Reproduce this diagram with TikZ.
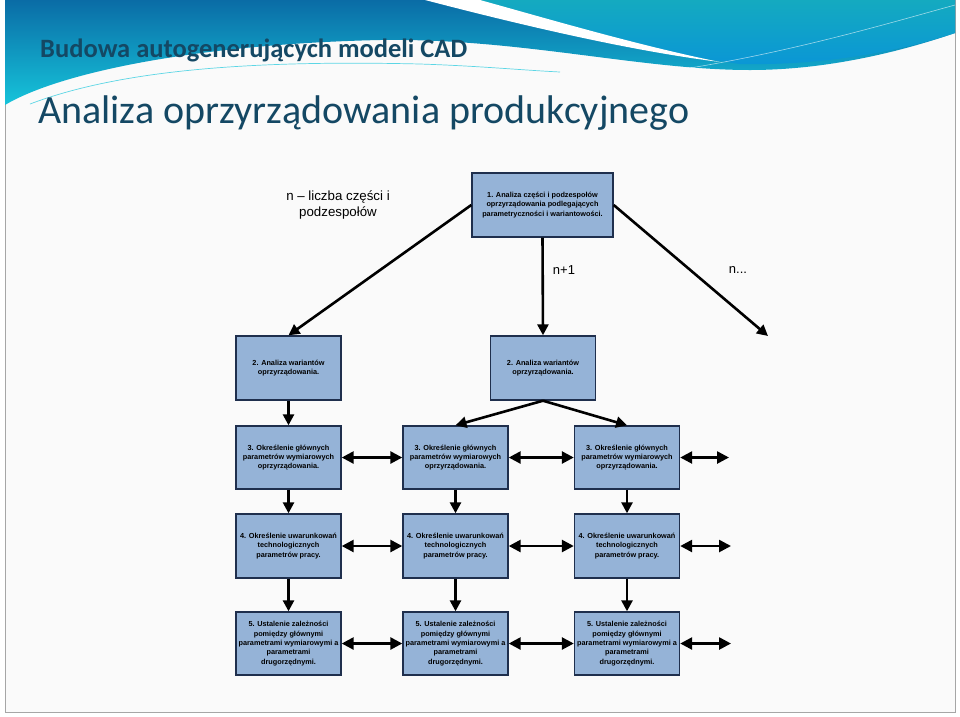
\documentclass[tikz,border=0pt]{standalone}
\usepackage{fontspec}
\setmainfont{Liberation Sans}
\newfontfamily\calibri{Carlito}
\usetikzlibrary{arrows.meta}

\definecolor{boxblue}{RGB}{149,179,215}
\definecolor{boxline}{RGB}{31,47,77}
\definecolor{titleblue}{RGB}{20,72,100}
\definecolor{waveblue}{RGB}{10,108,166}
\definecolor{wavecyan}{RGB}{22,196,218}
\definecolor{waveteal}{RGB}{20,170,192}
\definecolor{wavemid}{RGB}{10,150,214}

\begin{document}
\begin{tikzpicture}[
    x=1pt, y=-1pt,
    block/.style={
        draw=boxline,
        line width=1.4pt,
        fill=boxblue,
        minimum width=105pt,
        minimum height=64pt,
        inner sep=1pt,
        align=center,
        font=\fontsize{7.3}{9.4}\selectfont\bfseries
    },
    arr/.style={line width=2.6pt, -{Triangle[length=11pt,width=11pt]}},
    dbl/.style={line width=2.6pt, {Triangle[length=12pt,width=12pt]}-{Triangle[length=12pt,width=12pt]}}
]
\useasboundingbox (0,0) rectangle (960,716);

% slide background and wave
\fill[white] (0,0) rectangle (960,716);
\fill[gray!4] (5,0) rectangle (955,712);
\draw[gray!70, line width=1pt] (5,0) -- (5,712) -- (955,712) -- (955,0);
\shade[top color=waveblue, bottom color=wavecyan]
    (5,0) -- (955,0) -- (955,33)
    .. controls (920,45) and (840,70) .. (750,70)
    .. controls (640,70) and (520,38) .. (380,40)
    .. controls (200,44) and (60,72) .. (5,105) -- cycle;
\shade[top color=waveteal, bottom color=wavemid]
    (470,0) -- (955,0) -- (955,33)
    .. controls (920,45) and (840,66) .. (740,64)
    .. controls (640,50) and (540,20) .. (470,0) -- cycle;
\fill[white]
    (425,0) .. controls (540,30) and (640,52) .. (720,62)
    .. controls (640,46) and (545,18) .. (480,0) -- cycle;
\draw[wavecyan!70, line width=.7pt]
    (30,104) .. controls (120,70) and (250,60) .. (420,64)
    .. controls (480,66) and (520,70) .. (560,72);
\draw[white, opacity=.6, line width=.6pt]
    (690,68) .. controls (800,50) and (900,20) .. (955,5);

% titles
\node[font=\calibri\bfseries\fontsize{26.5}{32}\selectfont, text=titleblue, anchor=base west, inner sep=0pt] (sub) at (40,57) {Budowa autogenerujących modeli CAD};
\node[font=\calibri\fontsize{40}{48}\selectfont, text=titleblue, anchor=base west, inner sep=0pt] (title) at (38,123) {Analiza oprzyrządowania produkcyjnego};

% labels
\node[font=\fontsize{13.3}{16}\selectfont, align=center] (opis) at (338,205) {n – liczba części i\\podzespołów};
\node[font=\fontsize{13}{16}\selectfont] (nplus) at (564,270) {n+1};
\node[font=\fontsize{13}{16}\selectfont] (ndots) at (738,270) {n...};

% blocks
\node[block, minimum width=141pt] (analiza) at (542.5,205) {
1. Analiza części i podzespołów\\
oprzyrządowania podlegających\\
parametryczności i wariantowości.
};

\node[block] (war1) at (288.5,368) {
2. Analiza wariantów\\
oprzyrządowania.
};
\node[block] (war2) at (543,368) {
2. Analiza wariantów\\
oprzyrządowania.
};

\node[block, minimum height=63pt] (gl1) at (288.5,457.5) {
3. Określenie głównych\\
parametrów wymiarowych\\
oprzyrządowania.
};
\node[block, minimum height=63pt] (gl2) at (455.5,457.5) {
3. Określenie głównych\\
parametrów wymiarowych\\
oprzyrządowania.
};
\node[block, minimum height=63pt] (gl3) at (627,457.5) {
3. Określenie głównych\\
parametrów wymiarowych\\
oprzyrządowania.
};

\node[block] (tech1) at (288.5,546) {
4. Określenie uwarunkowań\\
technologicznych\\
parametrów pracy.
};
\node[block] (tech2) at (455.5,546) {
4. Określenie uwarunkowań\\
technologicznych\\
parametrów pracy.
};
\node[block] (tech3) at (627,546) {
4. Określenie uwarunkowań\\
technologicznych\\
parametrów pracy.
};

\node[block, minimum height=63pt] (zal1) at (288.5,643.5) {
5. Ustalenie zależności\\
pomiędzy głównymi\\
parametrami wymiarowymi a\\
parametrami\\
drugorzędnymi.
};
\node[block, minimum height=63pt] (zal2) at (455.5,643.5) {
5. Ustalenie zależności\\
pomiędzy głównymi\\
parametrami wymiarowymi a\\
parametrami\\
drugorzędnymi.
};
\node[block, minimum height=63pt] (zal3) at (627,643.5) {
5. Ustalenie zależności\\
pomiędzy głównymi\\
parametrami wymiarowymi a\\
parametrami\\
drugorzędnymi.
};

% free ends
\coordinate (nend) at (768,336);
\coordinate (glend) at (729,457.5);
\coordinate (techend) at (731,546);
\coordinate (zalend) at (731,643.5);

% connectors
\draw[arr] (analiza.west) -- (war1.north);
\draw[arr] (analiza.south) -- (war2.north);
\draw[arr] (analiza.east) -- (nend);

\draw[arr] (war1) -- (gl1);
\draw[arr] (war2.south) -- (gl2.north);
\draw[arr] (war2.south) -- (gl3.north);

\draw[arr] (gl1) -- (tech1);
\draw[arr] (gl2) -- (tech2);
\draw[arr] (gl3) -- (tech3);
\draw[arr] (tech1) -- (zal1);
\draw[arr] (tech2) -- (zal2);
\draw[arr] (tech3) -- (zal3);

\draw[dbl] (gl1) -- (gl2);
\draw[dbl] (gl2) -- (gl3);
\draw[dbl] (gl3.east) -- (glend);
\draw[dbl] (tech1) -- (tech2);
\draw[dbl] (tech2) -- (tech3);
\draw[dbl] (tech3.east) -- (techend);
\draw[dbl] (zal1) -- (zal2);
\draw[dbl] (zal2) -- (zal3);
\draw[dbl] (zal3.east) -- (zalend);

\end{tikzpicture}
\end{document}
